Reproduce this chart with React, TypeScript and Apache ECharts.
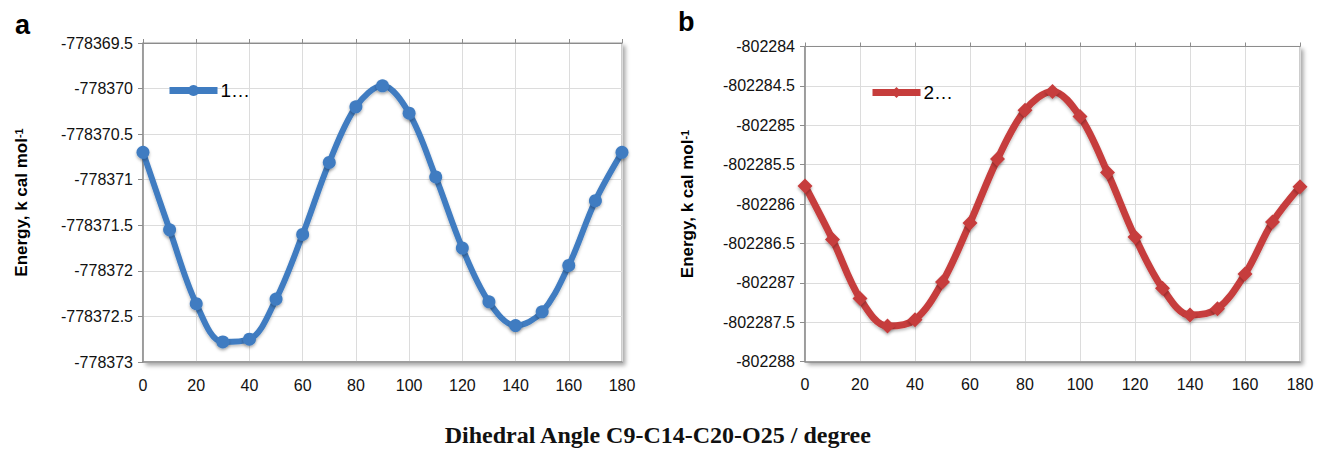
import React, { useEffect, useRef } from "react";
import * as echarts from "echarts";

const angles = [0, 10, 20, 30, 40, 50, 60, 70, 80, 90, 100, 110, 120, 130, 140, 150, 160, 170, 180];
const energyA = [
  -778370.70, -778371.55, -778372.36, -778372.78, -778372.75, -778372.31, -778371.60, -778370.81,
  -778370.20, -778369.97, -778370.27, -778370.97, -778371.75, -778372.34, -778372.60, -778372.45,
  -778371.94, -778371.23, -778370.70,
];
const energyB = [
  -802285.77, -802286.45, -802287.20, -802287.55, -802287.47, -802286.99, -802286.24, -802285.43,
  -802284.81, -802284.57, -802284.89, -802285.60, -802286.42, -802287.07, -802287.41, -802287.33,
  -802286.89, -802286.23, -802285.78,
];
const seriesNames = ["1…", "2…"];
const panelLabels = ["a", "b"];
const yAxisTitle = "Energy, k cal mol";
const xAxisTitle = "Dihedral Angle C9-C14-C20-O25 / degree";

export default function App() {
  const ref = useRef<HTMLDivElement>(null);
  useEffect(() => {
    if (!ref.current) return;
    const chart = echarts.init(ref.current, null, { renderer: "svg" });
    const font = "Liberation Sans, Arial, Helvetica, sans-serif";
    const grids = [
      { left: 143, top: 43, width: 479, height: 319 },
      { left: 805, top: 46.5, width: 495, height: 315 },
    ];
    const yRanges = [
      { min: -778373, max: -778369.5, nameGap: 113 },
      { min: -802288, max: -802284, nameGap: 109 },
    ];
    const colors = ["#3f7cc1", "#c63d3c"];
    const symbols = ["circle", "diamond"];
    const datas = [energyA, energyB];

    const xAxes: any[] = [];
    const yAxes: any[] = [];
    const series: any[] = [];
    [0, 1].forEach((i) => {
      xAxes.push({
        gridIndex: i,
        type: "value",
        min: 0,
        max: 180,
        interval: 20,
        axisLine: { show: true, lineStyle: { color: "#8c8c8c", width: 1.5 } },
        axisTick: { show: false },
        axisLabel: { color: "#111", fontSize: 16, fontFamily: font, margin: 15 },
        splitLine: { show: true, lineStyle: { color: "#dcdcdc", width: 1 } },
      });
      xAxes.push({
        gridIndex: i,
        type: "value",
        position: "top",
        min: 0,
        max: 180,
        interval: 20,
        axisLine: { show: true, lineStyle: { color: "#8c8c8c", width: 1 } },
        axisTick: { show: true, length: 4, lineStyle: { color: "#8c8c8c" } },
        axisLabel: { show: false },
        splitLine: { show: false },
      });
      yAxes.push({
        gridIndex: i,
        type: "value",
        min: yRanges[i].min,
        max: yRanges[i].max,
        interval: 0.5,
        name: "{t|" + yAxisTitle + "}{s|-1}",
        nameLocation: "middle",
        nameGap: yRanges[i].nameGap,
        nameRotate: 90,
        nameTextStyle: {
          rich: {
            t: { fontSize: 17, fontWeight: "bold", color: "#000", fontFamily: font },
            s: { fontSize: 11, fontWeight: "bold", color: "#000", fontFamily: font, verticalAlign: "top", padding: [0, 0, 6, 0] },
          },
        },
        axisLine: { show: true, lineStyle: { color: "#8c8c8c", width: 1.5 } },
        axisTick: { show: true, length: 5, lineStyle: { color: "#8c8c8c" } },
        axisLabel: {
          color: "#111",
          fontSize: 16,
          fontFamily: font,
          margin: 10,
          formatter: (v: number) => String(Math.round(v * 10) / 10),
        },
        splitLine: { show: true, lineStyle: { color: "#dcdcdc", width: 1 } },
      });
      series.push({
        name: seriesNames[i],
        type: "line",
        xAxisIndex: i * 2,
        yAxisIndex: i,
        smooth: 0.35,
        data: angles.map((a, k) => [a, datas[i][k]]),
        symbol: symbols[i],
        symbolSize: i === 0 ? 13 : 15,
        lineStyle: {
          color: colors[i],
          width: i === 0 ? 6 : 7,
          shadowColor: "rgba(0,0,0,0.25)",
          shadowBlur: 3,
          shadowOffsetY: 2,
        },
        itemStyle: {
          color: colors[i],
          shadowColor: "rgba(0,0,0,0.3)",
          shadowBlur: 3,
          shadowOffsetY: 2,
        },
        z: 3,
      });
    });

    const legendBase = {
      itemWidth: 48,
      itemHeight: 14,
      itemGap: 2,
      textStyle: { fontSize: 19, color: "#000", fontFamily: font, padding: [0, 0, 0, -2] },
      lineStyle: { width: 7 },
    };

    chart.setOption({
      animation: false,
      backgroundColor: "#ffffff",
      grid: grids.map((g) => ({
        ...g,
        show: true,
        borderColor: "#9a9a9a",
        borderWidth: 1,
        backgroundColor: "#fff",
        shadowColor: "rgba(0,0,0,0.35)",
        shadowBlur: 4,
        shadowOffsetX: 3,
        shadowOffsetY: 3,
      })),
      xAxis: xAxes,
      yAxis: yAxes,
      legend: [
        { ...legendBase, data: [seriesNames[0]], left: 161, top: 76 },
        { ...legendBase, data: [seriesNames[1]], left: 864, top: 78 },
      ],
      series,
      graphic: [
        {
          type: "text",
          left: 15,
          top: 11,
          style: { text: panelLabels[0], fontSize: 27, fontWeight: "bold", fill: "#000", fontFamily: font },
        },
        {
          type: "text",
          left: 678,
          top: 8,
          style: { text: panelLabels[1], fontSize: 27, fontWeight: "bold", fill: "#000", fontFamily: font },
        },
        {
          type: "text",
          left: "center",
          top: 423,
          style: {
            text: xAxisTitle,
            fontSize: 24,
            fontWeight: "bold",
            fill: "#111",
            fontFamily: "Liberation Serif, DejaVu Serif, serif",
          },
        },
      ],
    });
    return () => chart.dispose();
  }, []);
  return (
    <div
      ref={ref}
      style={{ position: "absolute", left: 0, top: 0, width: 1317, height: 450 }}
    />
  );
}
